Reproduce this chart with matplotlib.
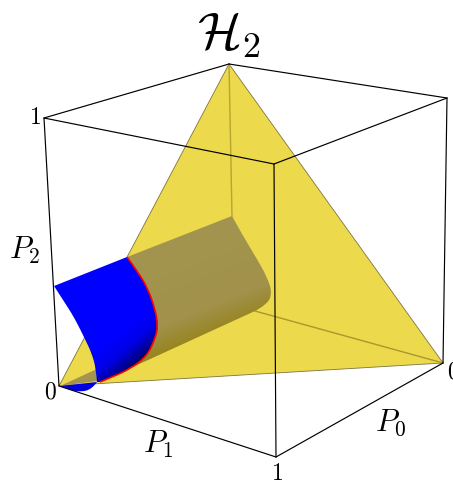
import numpy as np
import matplotlib
matplotlib.use("Agg")
import matplotlib.pyplot as plt
from matplotlib.colors import LinearSegmentedColormap
from matplotlib.patches import PathPatch
from matplotlib.path import Path

plt.rcParams["mathtext.fontset"] = "cm"
plt.rcParams["font.family"] = ["DejaVu Serif"]

W, H = 453, 481

# box corners (pixels)
top_left = (44, 119)
top_back = (229, 65)
top_right = (447, 99)
top_front = (274, 165)
bot_left = (59, 387)
bot_front = (276, 458)
bot_right = (443, 364)

tri_x = [229, 443, 59]
tri_y = [65, 364, 387]

# curves on the tube and the cap
red_x = [127, 138, 148, 155, 158, 155, 147, 130, 112, 100]
red_y = [258, 273, 290, 310, 327, 340, 357, 370, 378, 383]
back_x = [232, 243, 257, 267, 272, 268, 255]
back_y = [217, 237, 260, 278, 293, 305, 312]
cap_left_x = [54, 67, 75, 85, 92, 96, 97]
cap_left_y = [287, 307, 320, 340, 355, 370, 383]
cap_low_x = [97, 92, 81, 70, 60]
cap_low_y = [383, 390, 393, 391, 387]
strip_x = [60, 97, 97]
strip_y = [387, 370, 382]

blue_stops = [(0.0, "#0000ff"), (0.45, "#0000e6"), (0.8, "#000090"), (1.0, "#000040")]
tube_stops = [(0.0, "#a3954f"), (0.75, "#a1914a"), (1.0, "#978520")]


def curve(xs, ys):
    # quadratic segments through the midpoints, so the outline stays round
    v = [(xs[0], ys[0])]
    c = []
    for i in range(1, len(xs) - 1):
        end = ((xs[i] + xs[i + 1]) / 2, (ys[i] + ys[i + 1]) / 2) if i < len(xs) - 2 else (xs[-1], ys[-1])
        v += [(xs[i], ys[i]), end]
        c += [Path.CURVE3, Path.CURVE3]
    return v, c


def outline(*parts):
    verts, codes = [], []
    for xs, ys in parts:
        v, c = curve(xs, ys)
        if not verts:
            verts, codes = list(v), [Path.MOVETO] + c
        else:
            verts += v
            codes += [Path.LINETO] + c
    verts.append(verts[0])
    codes.append(Path.CLOSEPOLY)
    return Path(verts, codes)


def gradient(ax, path, stops, start, end, z):
    # linear colour ramp from start to end, clipped to the outline
    cmap = LinearSegmentedColormap.from_list("ramp", stops)
    gx, gy = np.meshgrid(np.arange(W) + 0.5, np.arange(H) + 0.5)
    dx, dy = end[0] - start[0], end[1] - start[1]
    t = ((gx - start[0]) * dx + (gy - start[1]) * dy) / (dx * dx + dy * dy)
    im = ax.imshow(np.clip(t, 0, 1), cmap=cmap, vmin=0, vmax=1, extent=(0, W, H, 0),
                   aspect="auto", zorder=z, interpolation="bilinear")
    patch = PathPatch(path, fc="none", ec="none", transform=ax.transData)
    ax.add_patch(patch)
    im.set_clip_path(patch)


fig = plt.figure(figsize=(W / 100, H / 100), dpi=100)
ax = fig.add_axes([0, 0, 1, 1])

# yellow simplex
ax.fill(tri_x, tri_y, fc="#ecd94c", ec="#7d7540", lw=0.6, zorder=1)

# back edges, seen through the simplex
ax.plot([top_back[0], 232], [top_back[1], 217], color="#b5a532", lw=1.0, zorder=2)
ax.plot([255, bot_right[0]], [312, bot_right[1]], color="#a8982e", lw=1.0, zorder=2)

# tube
tube = outline((red_x[:1] + red_x[:1], red_y[:1] + red_y[:1]), (back_x, back_y), (red_x[::-1], red_y[::-1]))
gradient(ax, tube, tube_stops, (232, 217), (270, 312), 4)

# strip of tube seen at the narrow end
ax.fill(strip_x, strip_y, fc="#a3954f", ec="none", zorder=5)

# blue cap
cap = outline((cap_left_x, cap_left_y), (red_x[::-1], red_y[::-1]))
gradient(ax, cap, blue_stops, (108, 343), (132, 372), 6)
ax.add_patch(PathPatch(outline((cap_low_x, cap_low_y)), fc="#0000e6", ec="none", zorder=6))
v, c = curve(red_x, red_y)
ax.add_patch(PathPatch(Path(v, [Path.MOVETO] + c), fc="none", ec="#ff0000", lw=1.2, zorder=7))

# box wireframe
edges = [(top_left, top_back), (top_back, top_right), (top_right, top_front), (top_front, top_left),
         (top_left, bot_left), (top_right, bot_right), (top_front, bot_front),
         (bot_left, bot_front), (bot_front, bot_right)]
for a, b in edges:
    ax.plot([a[0], b[0]], [a[1], b[1]], color="black", lw=0.85, zorder=8, solid_capstyle="round")

ax.set_xlim(0, W)
ax.set_ylim(H, 0)
ax.axis("off")

# text
ax.text(229, 35, r"$\mathcal{H}_2$", fontsize=37, ha="center", va="center", zorder=9)
ax.text(25, 250, r"$P_2$", fontsize=22, ha="center", va="center", zorder=9)
ax.text(158, 444, r"$P_1$", fontsize=22, ha="center", va="center", zorder=9)
ax.text(391, 423, r"$P_0$", fontsize=22, ha="center", va="center", zorder=9)
ax.text(35, 117, r"$1$", fontsize=17, ha="center", va="center", zorder=9)
ax.text(50, 392, r"$0$", fontsize=17, ha="center", va="center", zorder=9)
ax.text(277, 474, r"$1$", fontsize=17, ha="center", va="center", zorder=9)
ax.text(453, 372, r"$0$", fontsize=17, ha="center", va="center", zorder=9)

fig.savefig("out.png", dpi=100)
